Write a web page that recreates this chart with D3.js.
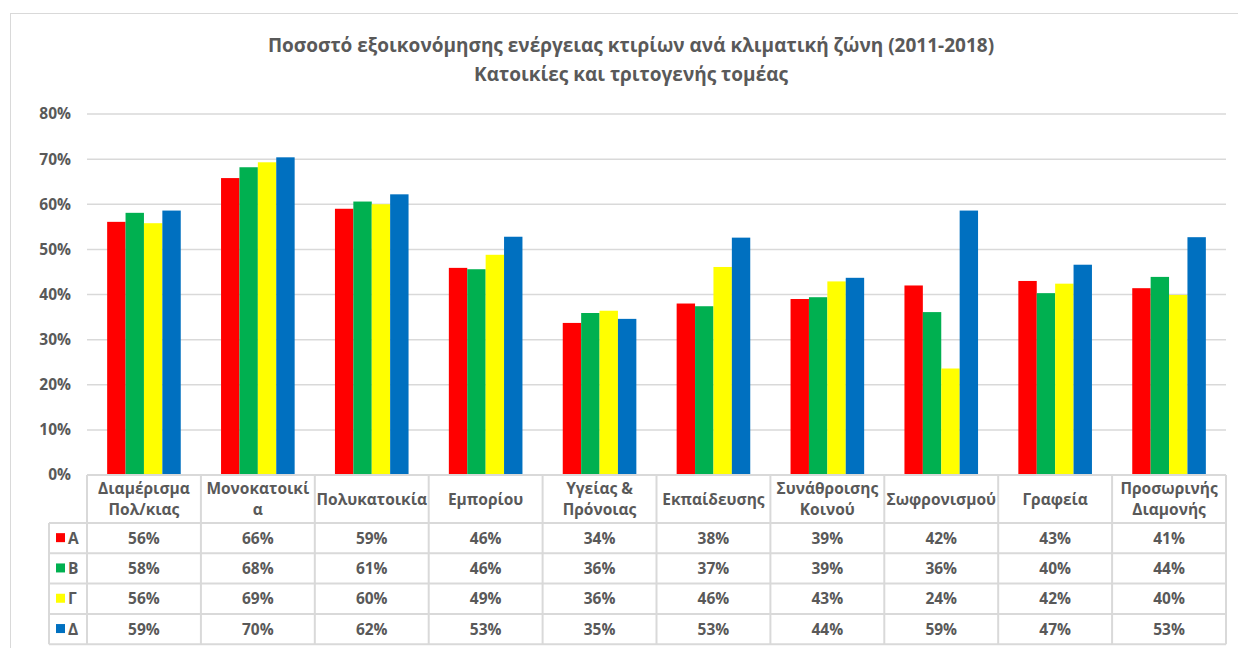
<!DOCTYPE html>
<html>
<head>
<meta charset="utf-8">
<script src="https://cdn.jsdelivr.net/npm/d3@7"></script>
<style>
  body { margin: 0; background: #fff; }
  text { font-family: "Open Sans", "Noto Sans", sans-serif; font-weight: bold; fill: #595959; }
</style>
</head>
<body>
<div id="chart"></div>
<script>
// κατηγορίες κτιρίων (γραμμές κεφαλίδας του πίνακα)
var categories = [
  ['Διαμέρισμα', 'Πολ/κιας'],
  ['Μονοκατοικί', 'α'],
  ['Πολυκατοικία'],
  ['Εμπορίου'],
  ['Υγείας &', 'Πρόνοιας'],
  ['Εκπαίδευσης'],
  ['Συνάθροισης', 'Κοινού'],
  ['Σωφρονισμού'],
  ['Γραφεία'],
  ['Προσωρινής', 'Διαμονής']
];
var zones = ['Α', 'Β', 'Γ', 'Δ'];
var zoneColors = ['#ff0000', '#00b050', '#ffff00', '#0070c0'];

var valuesA = [0.561, 0.658, 0.590, 0.459, 0.337, 0.380, 0.390, 0.420, 0.430, 0.414];
var valuesB = [0.581, 0.682, 0.606, 0.456, 0.359, 0.374, 0.394, 0.361, 0.403, 0.439];
var valuesG = [0.558, 0.693, 0.600, 0.488, 0.364, 0.461, 0.429, 0.236, 0.424, 0.399];
var valuesD = [0.586, 0.704, 0.622, 0.528, 0.346, 0.526, 0.437, 0.586, 0.466, 0.527];
var yTicks = [0, 0.1, 0.2, 0.3, 0.4, 0.5, 0.6, 0.7, 0.8];

var titleLines = ['Ποσοστό εξοικονόμησης ενέργειας κτιρίων ανά κλιματική ζώνη (2011-2018)',
                  'Κατοικίες και τριτογενής τομέας'];

var W = 1238, H = 648;
var plotLeft = 87, plotRight = 1226, plotTop = 114, plotBottom = 475;
var tableLeft = 49, headerBottom = 523, rowH = 30.3;
var fs = '15.5px';

var series = [valuesA, valuesB, valuesG, valuesD];
var catIdx = d3.range(categories.length);

var svg = d3.select('#chart').append('svg')
  .attr('width', W).attr('height', H);

svg.append('rect')
  .attr('x', 10.5).attr('y', 13.5).attr('width', W).attr('height', H)
  .attr('fill', '#fff').attr('stroke', '#d9d9d9').attr('stroke-width', 1);

// τίτλος
svg.selectAll('.title').data(titleLines).enter()
  .append('text').attr('class', 'title')
  .attr('x', 631).attr('y', function(d, i) { return 52 + i * 29; })
  .attr('text-anchor', 'middle')
  .style('font-size', '19px')
  .text(function(d) { return d; });

var x = d3.scaleBand().domain(catIdx).range([plotLeft, plotRight]);
var bw = x.bandwidth();
var barW = bw / (zones.length + 2.19);
var xs = d3.scaleBand().domain(d3.range(zones.length))
  .range([(bw - barW * zones.length) / 2, (bw + barW * zones.length) / 2]);
var y = d3.scaleLinear().domain([0, 0.8]).range([plotBottom, plotTop]);
var color = d3.scaleOrdinal().domain(d3.range(zones.length)).range(zoneColors);

// πλέγμα
svg.append('g').selectAll('line').data(yTicks.slice(1)).enter()
  .append('line')
  .attr('x1', plotLeft).attr('x2', plotRight)
  .attr('y1', function(d) { return y(d); }).attr('y2', function(d) { return y(d); })
  .attr('stroke', '#d9d9d9').attr('stroke-width', 1.5);

// άξονας y
var yAxis = svg.append('g')
  .attr('transform', 'translate(71,0)')
  .call(d3.axisLeft(y).tickValues(yTicks).tickFormat(d3.format('.0%')).tickSize(0).tickPadding(0));
yAxis.select('.domain').remove();
yAxis.selectAll('text').style('font-size', fs).attr('fill', '#595959');

// ράβδοι
var groups = svg.append('g').selectAll('g').data(series).enter()
  .append('g')
  .attr('fill', function(d, i) { return color(i); });
groups.each(function(vals, si) {
  d3.select(this).selectAll('rect').data(vals).enter()
    .append('rect')
    .attr('x', function(d, ci) { return x(ci) + xs(si); })
    .attr('width', xs.bandwidth())
    .attr('y', function(d) { return y(d); })
    .attr('height', function(d) { return y(0) - y(d); });
});

// πίνακας δεδομένων
var grid = svg.append('g').attr('stroke', '#d9d9d9').attr('stroke-width', 2).attr('fill', 'none');
var rowY = function(r) { return headerBottom + r * rowH; };
var tableBottom = rowY(zones.length);
// οριζόντιες
grid.append('line').attr('x1', plotLeft).attr('x2', plotRight).attr('y1', plotBottom).attr('y2', plotBottom);
d3.range(zones.length + 1).forEach(function(r) {
  grid.append('line').attr('x1', tableLeft).attr('x2', plotRight).attr('y1', rowY(r)).attr('y2', rowY(r));
});
// κάθετες
grid.append('line').attr('x1', tableLeft).attr('x2', tableLeft).attr('y1', headerBottom).attr('y2', tableBottom);
catIdx.concat([categories.length]).forEach(function(c) {
  var xx = c < categories.length ? x(c) : plotRight;
  grid.append('line').attr('x1', xx).attr('x2', xx).attr('y1', plotBottom).attr('y2', tableBottom);
});

// κεφαλίδα
var header = svg.append('g').selectAll('text').data(categories).enter()
  .append('text')
  .attr('text-anchor', 'middle')
  .style('font-size', fs);
header.each(function(lines, ci) {
  var cy = (plotBottom + headerBottom) / 2;
  d3.select(this).selectAll('tspan').data(lines).enter()
    .append('tspan')
    .attr('x', x(ci) + bw / 2)
    .attr('y', function(d, i) { return cy + 5.5 + (i - (lines.length - 1) / 2) * 21; })
    .text(function(d) { return d; });
});

// γραμμές τιμών
var fmt = d3.format('.0%');
series.forEach(function(vals, si) {
  var cy = rowY(si) + rowH / 2;
  var row = svg.append('g');
  row.append('rect')
    .attr('x', 56).attr('y', cy - 5).attr('width', 9).attr('height', 9)
    .attr('fill', color(si));
  row.append('text')
    .attr('x', 68).attr('y', cy + 5.5)
    .style('font-size', fs)
    .text(zones[si]);
  row.selectAll('.val').data(vals).enter()
    .append('text').attr('class', 'val')
    .attr('x', function(d, ci) { return x(ci) + bw / 2; })
    .attr('y', cy + 5.5)
    .attr('text-anchor', 'middle')
    .style('font-size', fs)
    .text(function(d) { return fmt(d); });
});
</script>
</body>
</html>
